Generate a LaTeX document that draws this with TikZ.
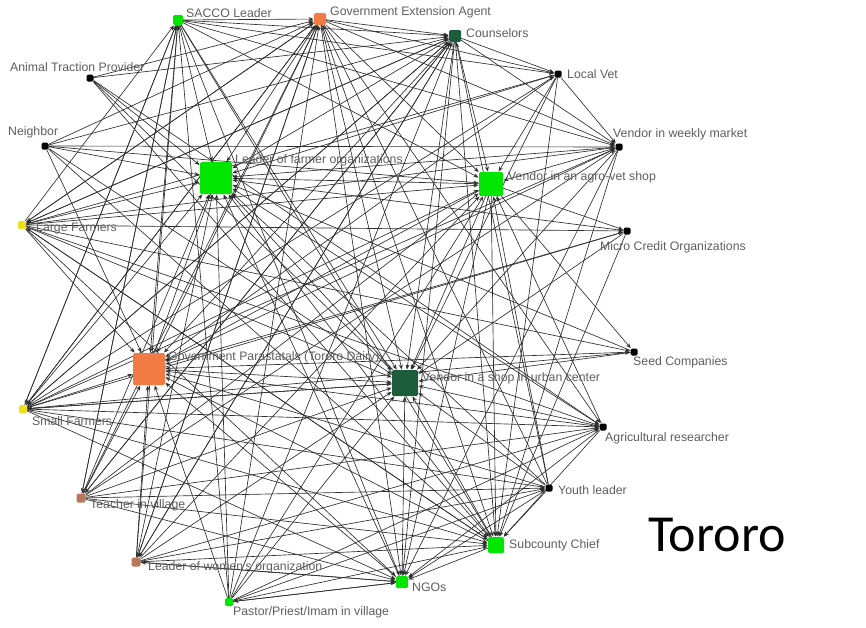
\documentclass[tikz,border=0pt]{standalone}
\usepackage{fontspec}
\setmainfont{Liberation Sans}
\newfontfamily\titlefont{Carlito}
\usetikzlibrary{arrows.meta,backgrounds}

\definecolor{actgreen}{HTML}{00E600}
\definecolor{actorange}{HTML}{F27A45}
\definecolor{actdark}{HTML}{1D5C3A}
\definecolor{actyellow}{HTML}{EDE21A}
\definecolor{actbrown}{HTML}{B5785A}
\definecolor{labelgray}{HTML}{5E5E5E}
\definecolor{edgegray}{HTML}{2E2E2E}

\tikzset{
  actor/.style={rectangle, inner sep=0pt, minimum size=#1, rounded corners=1.5pt},
  lbl/.style={anchor=west, inner sep=0pt, text=labelgray, font=\fontsize{12.3}{13}\selectfont},
  edge/.style={draw=edgegray, line width=0.65pt,
    -{Stealth[length=5pt,width=4pt,fill=black]}, shorten >=0.3pt},
}

\begin{document}
\begin{tikzpicture}[x=1pt,y=-1pt]
\useasboundingbox (0,0) rectangle (866,627);

% actors
\node[actor=10pt, fill=actgreen]  (sacco) at (178,20)  {};
\node[actor=12pt, fill=actorange] (gea)   at (320,19)  {};
\node[actor=12pt, fill=actdark]   (cou)   at (455,36)  {};
\node[actor=7pt,  fill=black]     (vet)   at (558,74)  {};
\node[actor=7pt,  fill=black]     (vwm)   at (619,147) {};
\node[actor=24pt, fill=actgreen]  (avs)   at (491,184) {};
\node[actor=7pt,  fill=black]     (mco)   at (627,231) {};
\node[actor=7pt,  fill=black]     (seed)  at (634,352) {};
\node[actor=7pt,  fill=black]     (agr)   at (603,427) {};
\node[actor=7pt,  fill=black]     (youth) at (549,488) {};
\node[actor=16pt, fill=actgreen]  (sub)   at (496,545) {};
\node[actor=12pt, fill=actgreen]  (ngo)   at (402,582) {};
\node[actor=8pt,  fill=actgreen]  (pas)   at (229,602) {};
\node[actor=9pt,  fill=actbrown]  (lwo)   at (136,562) {};
\node[actor=9pt,  fill=actbrown]  (tea)   at (81,498)  {};
\node[actor=8pt,  fill=actyellow] (sf)    at (23,409)  {};
\node[actor=32pt, fill=actorange] (gp)    at (149,369) {};
\node[actor=26pt, fill=actdark]   (vsu)   at (405,383) {};
\node[actor=8pt,  fill=actyellow] (lf)    at (22,225)  {};
\node[actor=32pt, fill=actgreen]  (lfo)   at (216,178) {};
\node[actor=7pt,  fill=black]     (nei)   at (45,146)  {};
\node[actor=7pt,  fill=black]     (atp)   at (90,78)   {};

% labels
\node[lbl] (tsacco) at (186,13)  {SACCO Leader};
\node[lbl] (tgea)   at (330,12)  {Government Extension Agent};
\node[lbl] (tcou)   at (466,33)  {Counselors};
\node[lbl] (tvet)   at (567,74)  {Local Vet};
\node[lbl] (tvwm)   at (613,134) {Vendor in weekly market};
\node[lbl] (tavs)   at (508,177) {Vendor in an agro-vet shop};
\node[lbl] (tmco)   at (600,247) {Micro Credit Organizations};
\node[lbl] (tseed)  at (633,362) {Seed Companies};
\node[lbl] (tagr)   at (605,438) {Agricultural researcher};
\node[lbl] (tyouth) at (558,490) {Youth leader};
\node[lbl] (tsub)   at (509,545) {Subcounty Chief};
\node[lbl] (tngo)   at (412,587) {NGOs};
\node[lbl] (tpas)   at (233,612) {Pastor/Priest/Imam in village};
\node[lbl] (tlwo)   at (148,567) {Leader of women's organization};
\node[lbl] (ttea)   at (90,505)  {Teacher in village};
\node[lbl] (tsf)    at (32,421)  {Small Farmers};
\node[lbl] (tgp)    at (168,357) {Government Parastatals (Tororo Dairy)};
\node[lbl] (tvsu)   at (422,378) {Vendor in a shop in urban center};
\node[lbl] (tlf)    at (36,229)  {Large Farmers};
\node[lbl] (tlfo)   at (235,160) {Leader of farmer organizations};
\node[lbl] (tnei)   at (8,132)   {Neighbor};
\node[lbl] (tatp)   at (10,67)   {Animal Traction Provider};

\node[font=\titlefont\fontsize{52}{58}\selectfont, text=black] (district) at (717,535) {Tororo};

% ties between actors
\begin{pgfonlayer}{background}
\foreach \a/\b in {
  lf/sacco, lf/gea, lf/cou, lf/lfo, lf/avs, lf/vwm, lf/mco, lf/gp, lf/vsu, lf/sub, lf/ngo, lf/agr, lf/vet, lf/seed,
  sf/sacco, sf/gea, sf/cou, sf/lfo, sf/avs, sf/vwm, sf/gp, sf/vsu, sf/sub, sf/ngo, sf/agr, sf/mco, sf/vet, sf/youth, sf/seed,
  tea/sacco, tea/gea, tea/cou, tea/lfo, tea/avs, tea/gp, tea/vsu, tea/sub, tea/ngo, tea/agr, tea/youth, tea/vwm,
  lwo/sacco, lwo/gea, lwo/cou, lwo/lfo, lwo/avs, lwo/gp, lwo/vsu, lwo/sub, lwo/ngo, lwo/youth, lwo/agr,
  pas/sacco, pas/gea, pas/cou, pas/lfo, pas/avs, pas/gp, pas/vsu, pas/sub, pas/ngo, pas/youth, pas/agr,
  nei/gea, nei/cou, nei/avs, nei/lfo, nei/vsu, nei/sub, nei/vwm, nei/gp,
  atp/gea, atp/cou, atp/lfo, atp/vsu, atp/agr, atp/sub,
  youth/sub, youth/ngo, youth/vsu, youth/avs, youth/gea, youth/cou, youth/lfo, youth/gp,
  sacco/gea, sacco/cou, sacco/lfo, sacco/vsu, sacco/sub, sacco/ngo, sacco/gp, sacco/vet, sacco/avs, sacco/vwm, sacco/sf, sacco/tea,
  gea/cou, gea/avs, gea/vsu, gea/lfo, gea/gp, gea/sub, gea/ngo, gea/agr, gea/vet, gea/vwm, gea/lf, gea/sf, gea/lwo,
  cou/avs, cou/vet, cou/lfo, cou/gp, cou/vsu, cou/sub, cou/ngo, cou/vwm, cou/tea, cou/lwo, cou/sf, cou/lf,
  vet/vwm, vet/avs, vet/lfo, vet/gp, vet/vsu, vet/sub,
  vwm/avs, vwm/lfo, vwm/gp, vwm/vsu, vwm/sub, vwm/ngo,
  avs/lfo, avs/gp, avs/vsu, avs/sub, avs/ngo, avs/mco, avs/seed,
  mco/gp, mco/vsu, mco/lfo, mco/sub,
  seed/gp, seed/vsu, seed/lfo,
  agr/vsu, agr/gp, agr/lfo, agr/sub, agr/ngo, agr/avs,
  sub/ngo, sub/vsu, sub/gp, sub/lfo, sub/lf,
  ngo/vsu, ngo/gp, ngo/lfo, ngo/pas, ngo/lwo,
  vsu/sf, gp/lfo, gp/vsu, vsu/lfo}
  \draw[edge] (\a) -- (\b);
\end{pgfonlayer}
\end{tikzpicture}
\end{document}
